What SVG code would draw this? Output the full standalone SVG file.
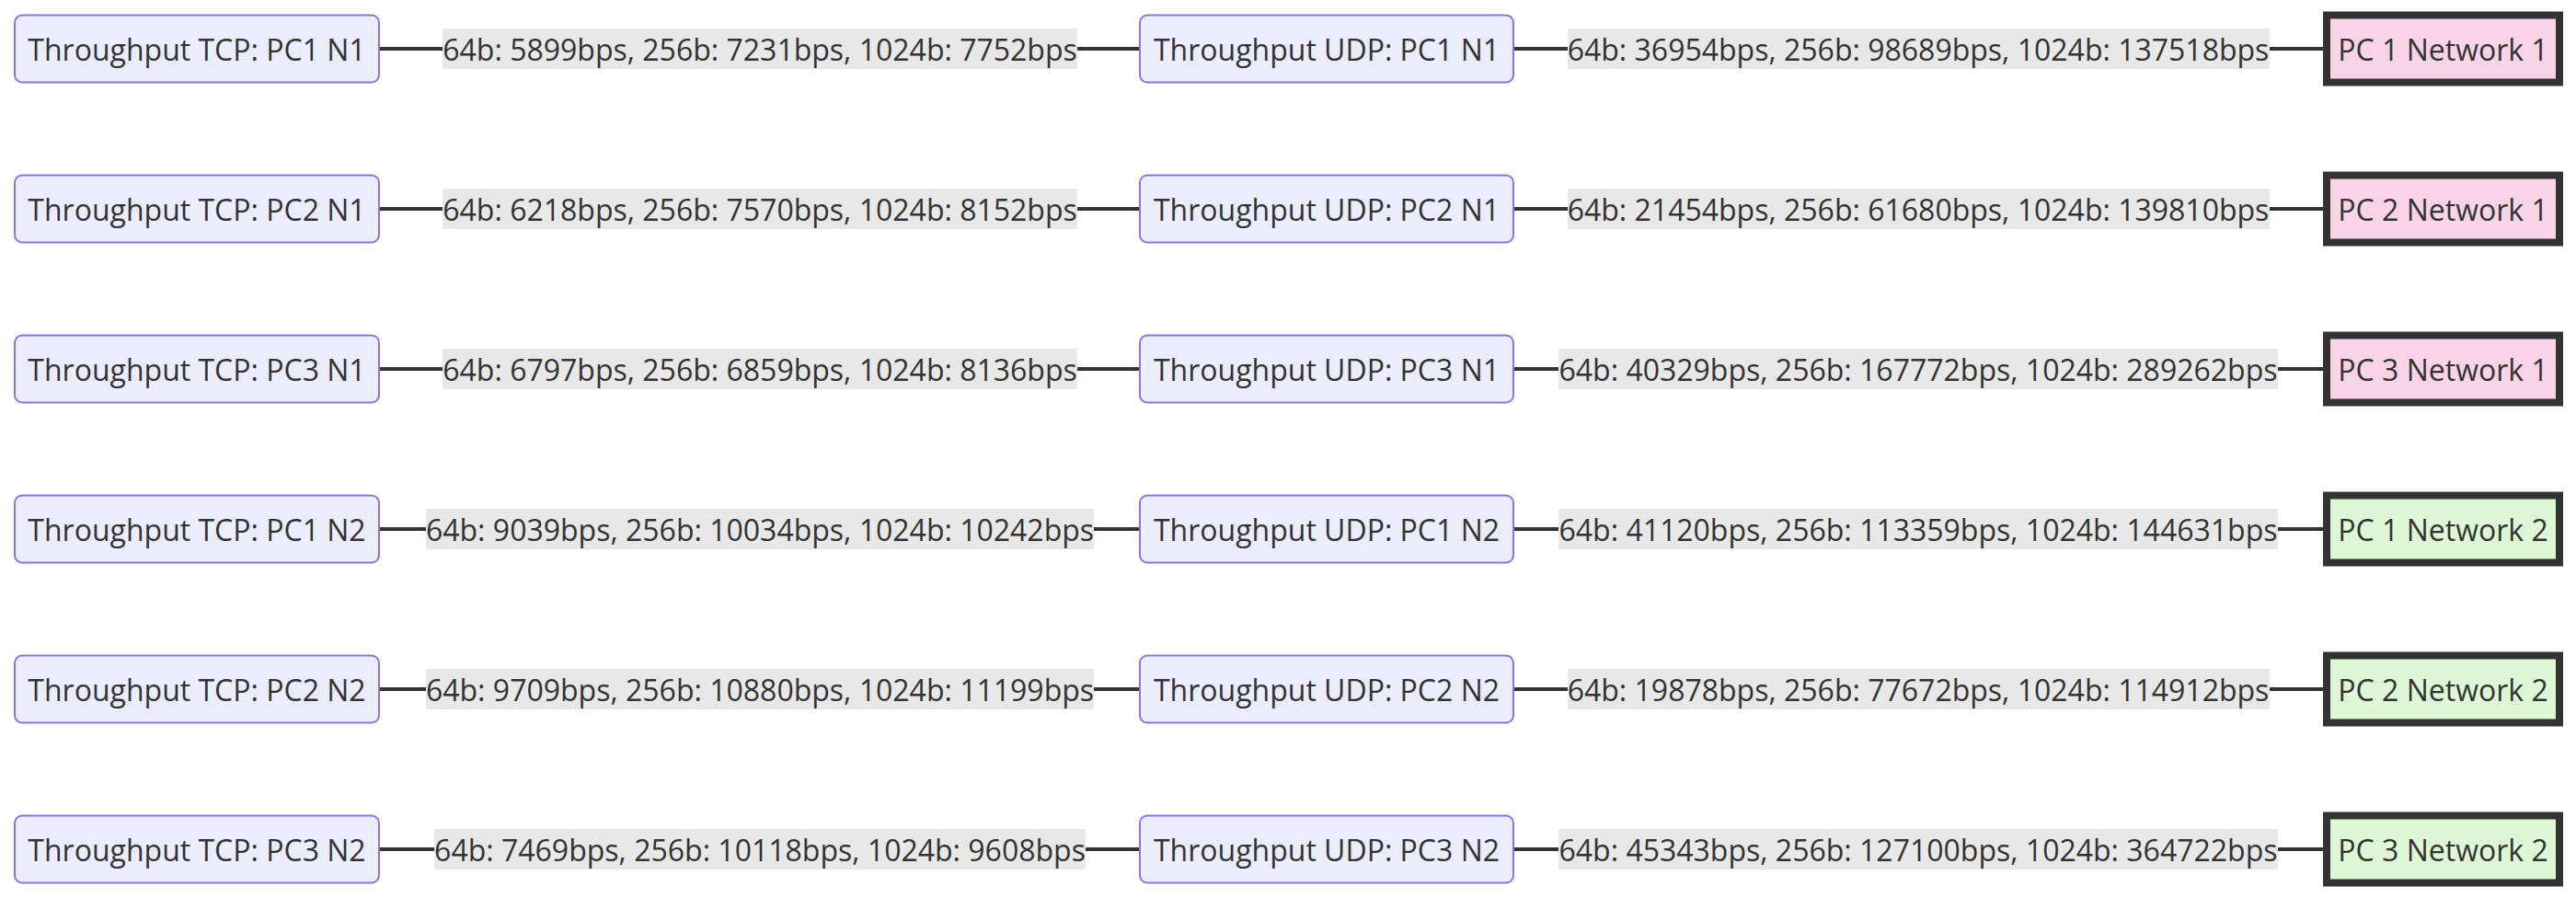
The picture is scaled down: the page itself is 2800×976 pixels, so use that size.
<svg xmlns="http://www.w3.org/2000/svg" width="2800" height="976" viewBox="0 0 2800 976">
<style>
text{font-family:"Open Sans","Noto Sans","DejaVu Sans",sans-serif;font-size:32px;fill:#333;text-anchor:middle;dominant-baseline:central}
.n rect{fill:#ECECFF;stroke:#9370DB;stroke-width:2}
.p rect{fill:#F9D4E6;stroke:#333;stroke-width:8}
.g rect{fill:#DEF8D5;stroke:#333;stroke-width:8}
.e line{stroke:#333;stroke-width:4}
.lb rect{fill:#E8E8E8}
</style>
<g id="connectors" class="e">
<line x1="412" y1="53" x2="1239" y2="53"/><line x1="1645" y1="53" x2="2525" y2="53"/>
<line x1="412" y1="227" x2="1239" y2="227"/><line x1="1645" y1="227" x2="2525" y2="227"/>
<line x1="412" y1="401" x2="1239" y2="401"/><line x1="1645" y1="401" x2="2525" y2="401"/>
<line x1="412" y1="575" x2="1239" y2="575"/><line x1="1645" y1="575" x2="2525" y2="575"/>
<line x1="412" y1="749" x2="1239" y2="749"/><line x1="1645" y1="749" x2="2525" y2="749"/>
<line x1="412" y1="923" x2="1239" y2="923"/><line x1="1645" y1="923" x2="2525" y2="923"/>
</g>
<g id="edge-labels" class="lb">
<rect x="481" y="31" width="690" height="44"/><text x="826" y="53">64b: 5899bps, 256b: 7231bps, 1024b: 7752bps</text>
<rect x="1704" y="31" width="763" height="44"/><text x="2085" y="53">64b: 36954bps, 256b: 98689bps, 1024b: 137518bps</text>
<rect x="481" y="205" width="690" height="44"/><text x="826" y="227">64b: 6218bps, 256b: 7570bps, 1024b: 8152bps</text>
<rect x="1704" y="205" width="763" height="44"/><text x="2085" y="227">64b: 21454bps, 256b: 61680bps, 1024b: 139810bps</text>
<rect x="481" y="379" width="690" height="44"/><text x="826" y="401">64b: 6797bps, 256b: 6859bps, 1024b: 8136bps</text>
<rect x="1694" y="379" width="782" height="44"/><text x="2085" y="401">64b: 40329bps, 256b: 167772bps, 1024b: 289262bps</text>
<rect x="463" y="553" width="726" height="44"/><text x="826" y="575">64b: 9039bps, 256b: 10034bps, 1024b: 10242bps</text>
<rect x="1694" y="553" width="782" height="44"/><text x="2085" y="575">64b: 41120bps, 256b: 113359bps, 1024b: 144631bps</text>
<rect x="463" y="727" width="726" height="44"/><text x="826" y="749">64b: 9709bps, 256b: 10880bps, 1024b: 11199bps</text>
<rect x="1704" y="727" width="763" height="44"/><text x="2085" y="749">64b: 19878bps, 256b: 77672bps, 1024b: 114912bps</text>
<rect x="472" y="901" width="708" height="44"/><text x="826" y="923">64b: 7469bps, 256b: 10118bps, 1024b: 9608bps</text>
<rect x="1694" y="901" width="782" height="44"/><text x="2085" y="923">64b: 45343bps, 256b: 127100bps, 1024b: 364722bps</text>
</g>
<g id="tcp1n1" class="n"><rect x="16" y="16.5" width="396" height="73" rx="8"/><text x="214" y="53">Throughput TCP: PC1 N1</text></g>
<g id="udp1n1" class="n"><rect x="1239" y="16.5" width="406" height="73" rx="8"/><text x="1442" y="53">Throughput UDP: PC1 N1</text></g>
<g id="pc1n1" class="p"><rect x="2529" y="16.5" width="253" height="73"/><text x="2655.5" y="53">PC 1 Network 1</text></g>
<g id="tcp2n1" class="n"><rect x="16" y="190.5" width="396" height="73" rx="8"/><text x="214" y="227">Throughput TCP: PC2 N1</text></g>
<g id="udp2n1" class="n"><rect x="1239" y="190.5" width="406" height="73" rx="8"/><text x="1442" y="227">Throughput UDP: PC2 N1</text></g>
<g id="pc2n1" class="p"><rect x="2529" y="190.5" width="253" height="73"/><text x="2655.5" y="227">PC 2 Network 1</text></g>
<g id="tcp3n1" class="n"><rect x="16" y="364.5" width="396" height="73" rx="8"/><text x="214" y="401">Throughput TCP: PC3 N1</text></g>
<g id="udp3n1" class="n"><rect x="1239" y="364.5" width="406" height="73" rx="8"/><text x="1442" y="401">Throughput UDP: PC3 N1</text></g>
<g id="pc3n1" class="p"><rect x="2529" y="364.5" width="253" height="73"/><text x="2655.5" y="401">PC 3 Network 1</text></g>
<g id="tcp1n2" class="n"><rect x="16" y="538.5" width="396" height="73" rx="8"/><text x="214" y="575">Throughput TCP: PC1 N2</text></g>
<g id="udp1n2" class="n"><rect x="1239" y="538.5" width="406" height="73" rx="8"/><text x="1442" y="575">Throughput UDP: PC1 N2</text></g>
<g id="pc1n2" class="g"><rect x="2529" y="538.5" width="253" height="73"/><text x="2655.5" y="575">PC 1 Network 2</text></g>
<g id="tcp2n2" class="n"><rect x="16" y="712.5" width="396" height="73" rx="8"/><text x="214" y="749">Throughput TCP: PC2 N2</text></g>
<g id="udp2n2" class="n"><rect x="1239" y="712.5" width="406" height="73" rx="8"/><text x="1442" y="749">Throughput UDP: PC2 N2</text></g>
<g id="pc2n2" class="g"><rect x="2529" y="712.5" width="253" height="73"/><text x="2655.5" y="749">PC 2 Network 2</text></g>
<g id="tcp3n2" class="n"><rect x="16" y="886.5" width="396" height="73" rx="8"/><text x="214" y="923">Throughput TCP: PC3 N2</text></g>
<g id="udp3n2" class="n"><rect x="1239" y="886.5" width="406" height="73" rx="8"/><text x="1442" y="923">Throughput UDP: PC3 N2</text></g>
<g id="pc3n2" class="g"><rect x="2529" y="886.5" width="253" height="73"/><text x="2655.5" y="923">PC 3 Network 2</text></g>
</svg>
